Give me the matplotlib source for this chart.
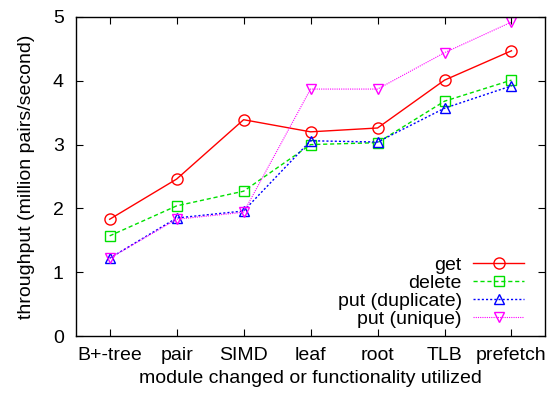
import matplotlib.pyplot as plt

categories = ["B+-tree", "pair", "SIMD", "leaf", "root", "TLB", "prefetch"]
get = [1.83, 2.46, 3.39, 3.20, 3.26, 4.01, 4.47]
delete = [1.57, 2.04, 2.27, 3.00, 3.03, 3.68, 4.01]
put_dup = [1.22, 1.85, 1.96, 3.06, 3.04, 3.57, 3.92]
put_uniq = [1.22, 1.83, 1.94, 3.87, 3.87, 4.44, 4.92]

plt.rcParams['font.family'] = ['Liberation Sans', 'DejaVu Sans']
plt.rcParams['font.size'] = 14

fig = plt.figure(figsize=(5.48, 3.94), dpi=100)
ax = fig.add_axes([0.139, 0.147, 0.9945 - 0.139, 0.957 - 0.147])

x = range(len(categories))
ms = 7.5
ax.plot(x, get, color='#ff0000', ls='-', lw=1, marker='o', ms=ms + 0.5, mfc='none', mew=1, label='get')
ax.plot(x, delete, color='#00e000', ls=(0, (3, 2)), lw=1, marker='s', ms=ms, mfc='none', mew=1, label='delete')
ax.plot(x, put_dup, color='#0000ff', ls=(0, (1.5, 1.5)), lw=1, marker='^', ms=ms, mfc='none', mew=1, label='put (duplicate)')
ax.plot(x, put_uniq, color='#ff00ff', ls=(0, (1, 1)), lw=0.8, marker='v', ms=ms, mfc='none', mew=1, label='put (unique)')

ax.set_xlim(-0.5, 6.5)
ax.set_ylim(0, 5)
ax.set_xticks(list(x))
ax.set_xticklabels(categories)
ax.set_yticks([0, 1, 2, 3, 4, 5])
ax.tick_params(direction='in', top=True, right=True, length=5)
ax.tick_params(axis='x', pad=8)
ax.tick_params(axis='y', pad=9)
for s in ax.spines.values():
    s.set_linewidth(1)

ax.set_xlabel("module changed or functionality utilized", labelpad=4)
ax.set_ylabel("throughput (million pairs/second)", labelpad=13)

ax.legend(loc='lower right', bbox_to_anchor=(0.955, 0.025), frameon=False, markerfirst=False,
          handlelength=2.6, labelspacing=0.03, borderaxespad=0.0, borderpad=0.0, handletextpad=0.6)

fig.savefig("out.png", dpi=100)
